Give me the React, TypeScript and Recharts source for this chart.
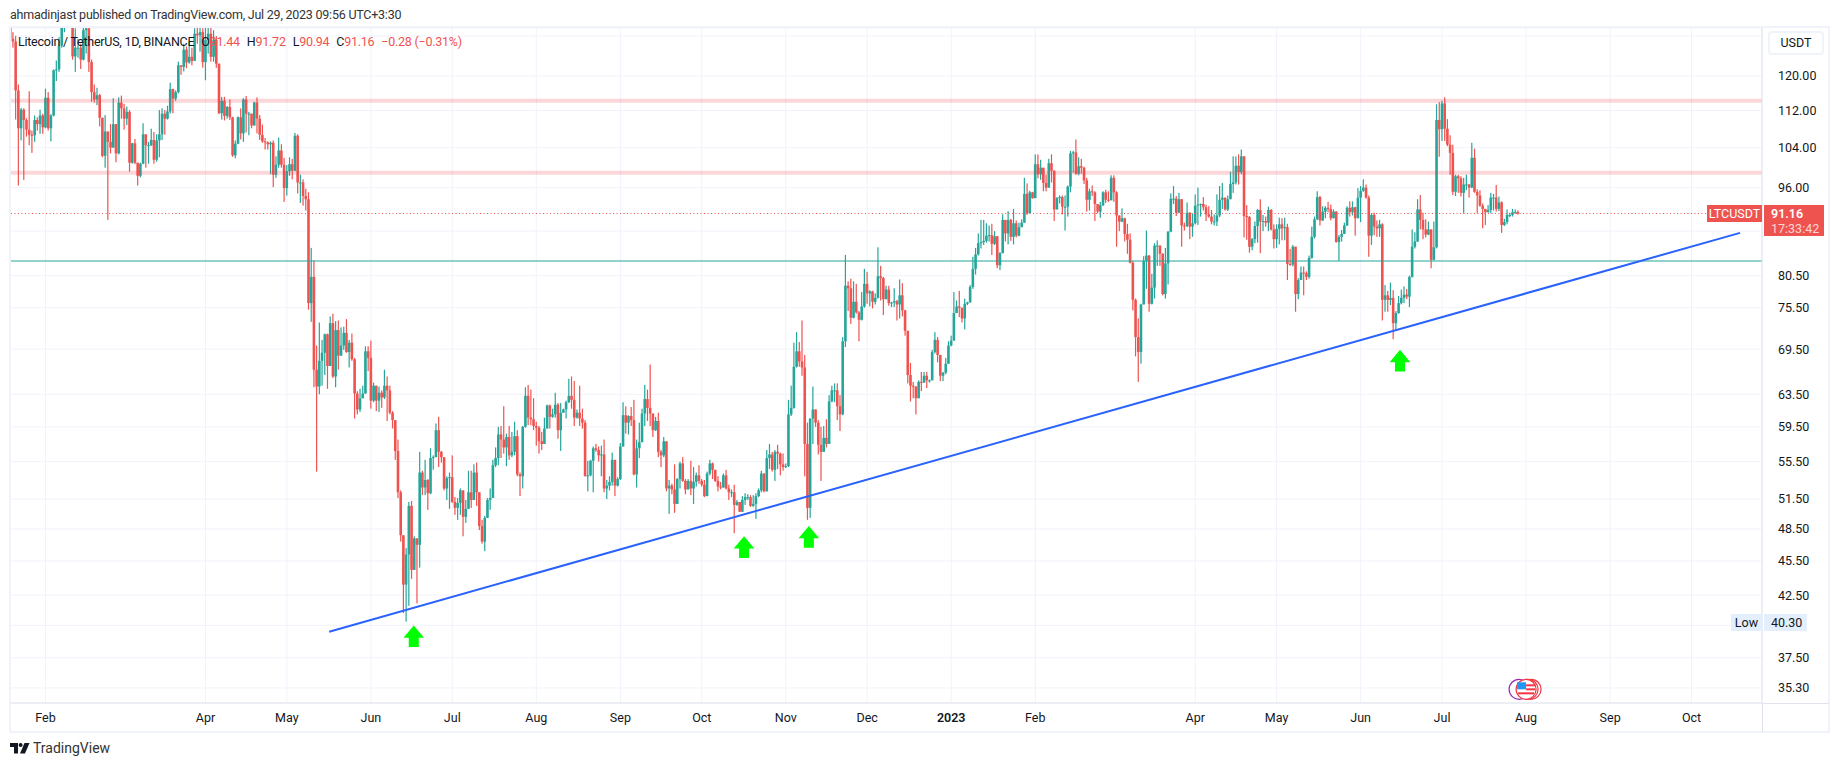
import { Bar, CartesianGrid, ComposedChart, ReferenceDot, ReferenceLine, XAxis, YAxis } from 'recharts';

// LTCUSDT daily candles. Day 0 is 1 Feb 2022, the first candle is day -13, the last is 29 Jul 2023.
const firstDay = -13;
const firstOpen = 136;

const closes = [
  129.3, 128.6, 116.6, 108.1, 112.2, 109.9, 107.8, 106.7, 106.6, 109.9,
  109, 110.9, 108.3, 114.9, 108.1, 110.9, 121.4, 121.6, 127.5, 132.4,
  136, 138, 137, 124.8, 127, 127, 124, 131.5, 132, 123.4,
  116.2, 114.5, 115.5, 110.4, 102.3, 107.4, 105.2, 104, 109, 102.8,
  113.8, 112.5, 110.2, 111.7, 100.9, 104.9, 100.9, 98.3, 100.7, 106.8,
  104.5, 104.5, 105.6, 101.5, 105.5, 106.8, 111.3, 110.2, 111.8, 116.9,
  114.7, 116.2, 122.6, 122.2, 126.5, 123.3, 124.7, 123.7, 130.6, 130.2,
  131, 123.4, 129, 130.6, 124.7, 129, 123, 111.4, 114.2, 110.8,
  112.8, 110.5, 102.4, 104.8, 110.5, 107, 114.5, 111.3, 111.3, 108.7,
  113.8, 110.2, 106.7, 105.3, 105.1, 104.7, 105, 98.5, 100.5, 103.4,
  100.5, 95.9, 99.2, 100.6, 99.3, 106.5, 97, 97, 94.4, 93.8,
  76.2, 80.3, 66.7, 64.5, 67.9, 69, 71.6, 67.2, 73.2, 65.8,
  72.2, 68.6, 70, 71.8, 69.1, 70.4, 68.1, 63.6, 61.6, 63,
  63.6, 69.2, 68.3, 62.7, 64.6, 62.7, 63.7, 63.1, 64.6, 64,
  61.2, 60.3, 56.7, 52.2, 47.9, 43.4, 46.1, 50.8, 44.7, 47.6,
  47, 54.3, 52.7, 53.5, 52.1, 55.9, 56, 59.1, 56.6, 56,
  52.6, 53.7, 53.8, 51.2, 50.6, 51.1, 52.4, 49.7, 50.5, 52.2,
  51.4, 54.3, 52.2, 48.8, 47.3, 49.6, 51.4, 51.6, 55.1, 55.9,
  58.6, 58, 57.1, 58.3, 56.2, 56.6, 58.4, 54.1, 53.9, 59.5,
  63.3, 60.6, 60.4, 59.6, 59.4, 57.8, 57.5, 59.3, 62.1, 60.7,
  61, 62.2, 59.1, 61.2, 61.6, 62.5, 63.3, 62.8, 60.6, 61.2,
  60.5, 60, 53.9, 54, 55.6, 57, 56.8, 56.2, 56.3, 52.6,
  52.9, 53.3, 55.7, 52.9, 53.6, 57.2, 60.9, 60, 60.8, 60.3,
  54.1, 57, 57.7, 61.1, 62.9, 61.8, 61.1, 59.1, 60.2, 56.6,
  56.2, 57.8, 52.6, 52.9, 52.5, 51, 53.6, 55.3, 53.4, 52.5,
  53.4, 52.6, 53.3, 54, 53.4, 53, 51.8, 54.2, 55.3, 54.6,
  53.4, 52.8, 52.7, 54, 52.6, 52.2, 52.2, 50.9, 51.2, 50.2,
  51.4, 51.7, 51.7, 50.8, 51, 51.8, 52.4, 54.2, 52.3, 55.9,
  56.3, 54.6, 56.6, 56.4, 55.2, 54.9, 55, 61, 61.8, 67.1,
  69.2, 67.8, 67, 57.5, 50.6, 60.5, 61.6, 60, 57.4, 56.6,
  58.2, 57.5, 62.6, 64, 64, 62, 61, 70.6, 78.9, 78.5,
  74, 76.4, 74.8, 73.7, 75.7, 79.2, 77.7, 78, 76.4, 77,
  80.4, 80.1, 76.8, 78.3, 76.2, 76.3, 76.5, 76, 77.4, 75.1,
  72.1, 66, 64.6, 64.5, 63, 65.1, 65, 65.9, 65.3, 65.3,
  69.1, 70.8, 68.7, 65.9, 66.3, 67.5, 70, 70.7, 74.7, 75.7,
  75.5, 73.9, 76.1, 76.3, 78.7, 81.6, 84, 85.9, 86.1, 86.3,
  87.2, 87.3, 85.8, 87.1, 82.2, 84.2, 90, 87.6, 90, 87,
  89.4, 87.2, 88.7, 89.5, 94.8, 91.2, 95.1, 94, 100.6, 98.6,
  99.9, 96.9, 96, 100.8, 99.3, 91.9, 94, 94.2, 92.4, 92.4,
  96.2, 102.8, 103, 98.7, 100.2, 99.9, 97.4, 93.7, 95.3, 95.1,
  92.9, 91.5, 92.7, 95.1, 93.7, 93.6, 97.9, 95.1, 90.8, 89.7,
  90.3, 87.5, 86.5, 82.6, 76.7, 71.2, 69.1, 76, 82.9, 83.8,
  76.1, 78.6, 85.5, 85.5, 84.1, 77.6, 82.5, 87.9, 93.9, 93.9,
  91.3, 93.8, 89, 88.9, 91.3, 88.8, 89.4, 92.6, 92.8, 92.9,
  92.3, 91, 90.6, 89.7, 89.7, 90.8, 93.7, 94.1, 91.9, 93.8,
  96.7, 97, 100.3, 99, 102.2, 90.7, 90.5, 85.3, 86.6, 88.9,
  91.8, 89.7, 89.8, 89.5, 91.8, 88.3, 86.6, 88.4, 89.2, 88.5,
  88.7, 82.4, 82.3, 85.3, 77.6, 79.8, 81, 80.9, 80.3, 83.4,
  87, 90.1, 94.2, 89.9, 91.5, 92.2, 92, 90.3, 91.5, 86.1,
  87, 87.5, 89, 92.2, 91.4, 92.3, 90.3, 94.1, 95.4, 96,
  94.1, 87.2, 90.9, 88.8, 88.5, 89.2, 76.7, 77.4, 76.7, 77,
  73.2, 74.7, 76.2, 77, 77.5, 77.2, 80.3, 85.3, 86.2, 91.9,
  90, 88.3, 87.4, 88.3, 83.1, 85.2, 109.9, 107.9, 113.6, 108,
  104.6, 102.9, 95.2, 98.2, 97.8, 95, 96.6, 96.6, 96, 101.9,
  95.2, 94.5, 92.6, 92, 91.4, 91.8, 94.1, 94.1, 92, 93.2,
  89.1, 89.6, 90.9, 90.9, 91.4, 91.44, 91.16,
];

const highs = [
  137, 131, 130, 118, 112.6, 112.5, 110.3, 116.4, 107.6, 110.9,
  110.5, 112.2, 111.3, 117, 116.2, 111.2, 121.6, 123.8, 129.7, 134,
  140, 142, 141, 138, 132, 129.3, 128, 135, 136, 133,
  124, 118, 117.2, 115.8, 110.2, 111, 107.4, 109, 114.8, 109,
  115, 115.4, 113.5, 112.9, 112.1, 105, 105.8, 100.9, 100.9, 109.2,
  106.8, 105.2, 108, 107.3, 106.8, 112.1, 112.5, 112.1, 113.1, 118.4,
  117, 116.6, 123.5, 122.6, 128, 127.3, 128.5, 127, 132, 133,
  136, 132, 133, 135, 134, 131.5, 130, 122.5, 115.1, 115.1,
  113, 114.5, 110.6, 105.5, 110.7, 112.5, 114.8, 115.3, 111.7, 111.3,
  114, 115, 111, 108.9, 106, 105.3, 105.3, 105.5, 102.2, 106.1,
  104.7, 101.9, 100.4, 102, 101.7, 107.1, 106.8, 98.5, 97.6, 95.8,
  95.1, 85.1, 83, 70, 73.3, 70.8, 71.7, 71.7, 74.2, 74.6,
  73.5, 73.6, 72.6, 72.7, 73.8, 70.8, 71.7, 68.3, 63.9, 64.2,
  64.6, 69.9, 69.9, 70.7, 65, 64.5, 64.5, 64, 66.7, 65.8,
  64.6, 61.4, 60.3, 58, 52.4, 47.9, 46.7, 51.2, 51.3, 47.8,
  47.6, 56.6, 54.5, 55.7, 53.6, 57, 56.2, 59.9, 60.7, 56.7,
  56, 53.9, 54.3, 56.2, 51.7, 51.6, 52.6, 52.4, 51.4, 54.5,
  54.5, 55.2, 55.4, 52.2, 49.4, 49.8, 51.6, 52.6, 55.7, 57.1,
  59.5, 59.6, 62, 58.7, 59.6, 58.9, 60.1, 59.1, 54.3, 59.6,
  64.4, 64.7, 64.1, 63, 60.1, 59.6, 58.9, 60.6, 62.2, 62.2,
  61.7, 63.7, 62.4, 62.4, 61.7, 62.7, 65.5, 65.8, 65.2, 61.6,
  64.6, 61.7, 60.3, 55.6, 55.7, 57.2, 57.5, 57.2, 57.3, 58,
  53.5, 53.9, 56.5, 55.5, 53.8, 57.6, 62.5, 62, 60.9, 61.9,
  62.8, 58, 60, 61.7, 64.7, 64.1, 67.4, 61.1, 60.7, 61.2,
  56.8, 58.3, 57.8, 53.5, 53.1, 55.2, 53.7, 55.5, 56, 53.6,
  53.6, 55.6, 54.9, 54.3, 55.1, 53.6, 53.5, 54.4, 55.7, 55.4,
  54.6, 53.9, 53.3, 54.2, 54.6, 53, 52.5, 53, 51.4, 51.2,
  51.8, 52.1, 52, 51.9, 51.9, 52.1, 52.6, 54.5, 54.2, 56.8,
  57.5, 56.6, 56.8, 57.4, 56.5, 56.4, 55.3, 62.8, 64.6, 70.4,
  71.9, 70.5, 73.6, 68.7, 60, 60.5, 64.5, 61.6, 60.3, 59.5,
  59.6, 60.4, 63.4, 64.6, 64.9, 64.9, 63.4, 71.2, 83.9, 79.6,
  80, 79.6, 79.2, 75, 77.9, 81.6, 81.1, 78.2, 78.1, 77.7,
  85.2, 82.1, 80.3, 78.9, 78.9, 76.4, 78.5, 76.7, 79.9, 79.3,
  75.2, 72.1, 67.6, 65.1, 64.5, 65.3, 66.4, 66.4, 66.4, 65.4,
  69.4, 71.9, 71.2, 68.7, 66.4, 68.3, 70.6, 71.4, 77.9, 76.6,
  78.1, 75.5, 76.9, 76.4, 79, 83.6, 85.1, 87.6, 90, 90,
  89.4, 89, 89.3, 88, 87.1, 84.4, 91, 90, 91.6, 90.2,
  92, 89.9, 89.5, 90.1, 97.9, 96.8, 95.4, 95.2, 102.6, 102.6,
  101.5, 99.9, 98.5, 101.7, 102.6, 99.4, 94.2, 94.5, 94.5, 94.5,
  96.4, 103.3, 103.3, 105.7, 102, 101.7, 100.1, 97.9, 95.8, 96.4,
  95.3, 92.9, 93.3, 95.3, 95.6, 95.3, 98.4, 98.4, 95.3, 90.8,
  92.1, 90.4, 89.3, 87.6, 82.9, 76.9, 73.9, 76.1, 83.7, 88.1,
  83.9, 80.8, 85.9, 86.4, 85.5, 84.2, 85.1, 88, 94.9, 96.3,
  94.4, 95, 93.7, 89.5, 93.2, 91.4, 91.2, 94.7, 96, 93,
  94.2, 92.8, 92.5, 91.8, 91, 94.7, 96.3, 96.9, 94.1, 94.5,
  99.1, 102.2, 102.2, 102.6, 103.6, 102.2, 92.7, 90.7, 86.8, 89.7,
  92, 93.8, 90.9, 90.6, 92.4, 92, 89.2, 89.2, 90.4, 90.3,
  90.4, 89.3, 84.9, 85.6, 85.3, 80.1, 82, 82, 81.2, 83.8,
  88.8, 90.6, 95.3, 94.4, 92.5, 92.5, 93.3, 92.8, 91.9, 91.6,
  87.3, 88.2, 89.5, 92.5, 93.4, 93.4, 92.4, 95.9, 96.3, 97.6,
  96.6, 94.5, 91.2, 91.3, 89.9, 90, 89.4, 79, 78.1, 79.4,
  78.2, 75, 77.3, 78.3, 78.8, 78.4, 80.5, 88.3, 87.8, 93.8,
  94.6, 91.3, 90.1, 89.7, 88.3, 89.7, 113.4, 113.9, 114.2, 115,
  110.1, 106.6, 104.6, 98.5, 98.5, 98.2, 97.9, 98.5, 96.7, 105,
  103.8, 95.7, 95.5, 93, 92, 92.7, 95, 94.8, 96.5, 94.3,
  93.4, 90.2, 91.9, 91.3, 92, 91.9, 91.72,
];

const lows = [
  128.5, 127, 110, 96.4, 105.5, 97.5, 106.3, 104.5, 102.9, 105.2,
  107.6, 106.9, 106.9, 108.1, 107.6, 105.3, 110.7, 118.8, 121, 127,
  131, 134, 133, 124, 121, 124.5, 121.7, 123.8, 125.5, 121,
  114, 113.8, 113.2, 108.5, 102, 99.9, 90, 102.8, 104.3, 101,
  102.6, 110.2, 107.8, 108.8, 99.1, 100.7, 100.6, 96.4, 98, 100.6,
  99.9, 100.7, 104.3, 100.7, 101.1, 102, 105.6, 106.7, 110, 111.3,
  111.4, 114.2, 115.9, 120.3, 121.1, 121.9, 123, 122.6, 127.3, 128,
  126, 122, 119, 125.5, 123.5, 123.5, 122, 111.2, 110, 109.8,
  110.2, 109.9, 102.1, 101.8, 104.7, 105.7, 105.2, 107.2, 106.6, 108.1,
  111.1, 107, 105.6, 105, 103.6, 103.6, 98.6, 96.1, 97.9, 99.9,
  99.9, 93.3, 94.5, 98.3, 97.6, 99.2, 94.9, 93.1, 92.6, 91.7,
  75.2, 73.4, 64.4, 54.4, 63.5, 64.6, 66, 64.2, 67.5, 65.6,
  64.4, 66.7, 68.6, 69.4, 69, 67, 67.9, 60.5, 61, 61.3,
  63, 63.6, 66.5, 61.7, 62.5, 61.4, 61.3, 61.8, 62.9, 60.2,
  61, 59.3, 55.7, 51.6, 47.3, 41, 40.3, 41.6, 43.9, 44.7,
  41.8, 44.9, 51.9, 51.9, 50.4, 52, 54.6, 56, 54.9, 55.4,
  52.4, 51.4, 50.5, 51.1, 49.9, 49.4, 49.9, 47.8, 49.1, 50.6,
  50.6, 51.4, 50.8, 48.4, 47.1, 46.4, 49.6, 50.4, 51.6, 54.9,
  55.1, 55.9, 56.4, 55, 55.7, 56, 56.2, 53.9, 51.8, 52.6,
  59.4, 59.7, 59.7, 59.1, 57.3, 56.4, 56.8, 57.5, 59.3, 59.3,
  60.6, 60.6, 58.1, 56.7, 61.2, 60.5, 62.4, 61.7, 59.6, 60.5,
  59.6, 59.3, 53.9, 52.3, 53.9, 52.2, 56.6, 55.5, 53.9, 52.2,
  51.5, 52.4, 52.9, 51.8, 52.8, 53.5, 57.2, 58.7, 58.6, 59.6,
  54, 52.7, 55.9, 57.8, 59.6, 60.2, 59.6, 58.3, 59, 56,
  54.9, 56, 52.3, 50, 52, 50.1, 51, 52.6, 53.3, 52,
  52.6, 51.9, 51, 52.8, 53.1, 52.8, 51.7, 51.8, 54, 53.6,
  53.3, 52.3, 52.5, 52.8, 52.5, 51.4, 51.7, 48.1, 50.8, 50.2,
  50.2, 50.9, 51.4, 50.7, 50.7, 49.5, 51.7, 52.2, 52.2, 52.3,
  54.7, 54.4, 53.4, 54.7, 54, 54.5, 54.8, 54.9, 60.8, 61.7,
  67, 67.1, 65.9, 53.9, 49.4, 49.6, 57.5, 59.5, 56.3, 53.4,
  56.6, 57.1, 57.5, 62.5, 62.5, 60.3, 59, 60.9, 69.8, 75,
  73.1, 73.9, 74.6, 70.6, 73.6, 75.5, 76.1, 75.7, 75.4, 76,
  76.9, 76.6, 74.4, 76.8, 75.8, 75.6, 75.6, 73.6, 73.9, 74.2,
  71.4, 64.9, 62.6, 63, 61, 63, 63.9, 65, 64.3, 65,
  65.3, 68.9, 67.7, 65.2, 65.2, 66.1, 67.7, 69.9, 70.7, 74.7,
  74.1, 73.3, 72.3, 75.9, 76.3, 78.4, 80.7, 83.8, 85, 85.6,
  86, 86.2, 83.9, 85.6, 81.7, 81.4, 84.2, 86.2, 85.7, 86.3,
  85.7, 86.9, 87.1, 88.7, 89.5, 90.9, 91.2, 93.9, 94, 97.8,
  97.5, 95.3, 95.3, 96, 97, 89.8, 91.9, 93, 91, 88.1,
  90.6, 95.1, 98.9, 98.5, 98.4, 98.7, 96.7, 91.5, 91.7, 94.4,
  89.8, 91.2, 90.4, 92.5, 93.1, 93.3, 93.7, 93.3, 85.3, 88,
  89.6, 86.2, 84.1, 82.5, 75.1, 68.5, 65.1, 67.5, 76, 78.4,
  74.9, 76, 76.9, 82.1, 82.1, 77.4, 76.9, 79.1, 87.8, 92.9,
  90.7, 91.2, 85.3, 88.1, 88.7, 86.6, 87, 89.2, 89.1, 90.6,
  91.7, 89.8, 90.4, 89.2, 89, 88.9, 90.5, 92, 91.7, 91.6,
  93.8, 95, 96.6, 96.6, 98.6, 86.9, 86.5, 84.3, 84.7, 85.9,
  86, 84.2, 88, 88.8, 88, 88.1, 85, 85.1, 85.7, 86.4,
  86.4, 79.8, 82.1, 82, 74.9, 76.8, 79.8, 77.4, 79.8, 80,
  83.3, 86.7, 90, 89, 89.8, 90.3, 91.4, 89.9, 90.3, 86,
  82.9, 86.2, 87.5, 88.9, 90.6, 90.8, 87.2, 90.8, 89.6, 95.2,
  93.9, 83.6, 85.6, 87.3, 87, 87, 73.6, 74.9, 74.9, 75.9,
  70.9, 72.2, 74.6, 76, 76.2, 76.8, 75.6, 80.2, 85, 86.1,
  88.3, 86.6, 86.9, 87.3, 81.7, 83, 85, 102.1, 105.4, 105.4,
  104.3, 98.5, 94.6, 94.4, 95, 94.3, 91.2, 95.5, 94.1, 95.9,
  95, 91.2, 92.4, 88.5, 89.1, 91.3, 91.2, 91.7, 91.5, 91.6,
  87.7, 88.9, 89.2, 90.5, 90.6, 91.1, 90.94,
];

const monthDays = [0, 59, 89, 120, 150, 181, 212, 242, 273, 303, 334, 365, 424, 454, 485, 515, 546, 577, 607];
const monthLabels = ['Feb', 'Apr', 'May', 'Jun', 'Jul', 'Aug', 'Sep', 'Oct', 'Nov', 'Dec', '2023', 'Feb', 'Apr', 'May', 'Jun', 'Jul', 'Aug', 'Sep', 'Oct'];
const priceTicks = [130, 120, 112, 104, 96, 88, 80.5, 75.5, 69.5, 63.5, 59.5, 55.5, 51.5, 48.5, 45.5, 42.5, 40, 37.5, 35.3];
// grid levels whose labels sit behind a tag in the reference
const unlabelledTicks = [130, 88, 40];

const resistanceLevels = [114.2, 98.9];
const supportLevel = 82.9;
const lastClose = 91.16;
const trendStart = { x: 104.6, y: 39.5 };
const trendEnd = { x: 624.9, y: 87.7 };
const arrowDays = [135.8, 257.6, 281.5, 499.5];
const arrowPrices = [40, 47.8, 48.8, 69.4];
const eventDay = 546;
const eventPrice = 35.2;

const UP = '#26a69a';
const DOWN = '#ef5350';
const INK = '#131722';
const FRAME = '#f0f3fa';
const FONT = 'Roboto, sans-serif';

const table = closes.map((close, i) => {
  const open = i === 0 ? firstOpen : closes[i - 1];
  const high = Math.max(highs[i], open, close);
  const low = Math.min(lows[i], open, close);
  return { day: firstDay + i, open, close, high, low, range: [low, high] };
});

function Candle(props: any) {
  const { x, y, width, height, payload } = props;
  const { open, close, high, low } = payload;
  const span = Math.log(high / low) || 1;
  const at = (v: number) => y + (height * Math.log(high / v)) / span;
  const color = close >= open ? UP : DOWN;
  const top = at(Math.max(open, close));
  const bottom = at(Math.min(open, close));
  const mid = x + width / 2;
  return (
    <g>
      <rect x={mid - 0.6} y={y} width={1.2} height={height} fill={color} />
      <rect x={x} y={top} width={width} height={Math.max(bottom - top, 1)} fill={color} />
    </g>
  );
}

function GreenArrow(props: any) {
  const { cx, cy } = props;
  const d = `M${cx} ${cy} L${cx + 10.3} ${cy + 12.3} H${cx + 5} V${cy + 21.7} H${cx - 5} V${cy + 12.3} H${cx - 10.3} Z`;
  return <path d={d} fill="#00ff00" />;
}

function EventBadge(props: any) {
  const { cx, cy } = props;
  return (
    <g fill="none">
      <circle cx={cx - 7} cy={cy} r={10} stroke="#9c27b0" strokeWidth={1.2} fill="#fff" />
      <circle cx={cx + 5} cy={cy} r={10} stroke="#f23645" strokeWidth={1.2} fill="#fff" />
      <circle cx={cx + 2} cy={cy} r={10} stroke="#f23645" strokeWidth={1.2} fill="#fff" />
      <circle cx={cx} cy={cy} r={10} stroke="#f23645" strokeWidth={1.2} fill="#fff" />
      <rect x={cx - 9} y={cy - 7} width={9} height={7} fill="#2196f3" />
      <rect x={cx} y={cy - 5} width={9} height={2} fill="#f23645" />
      <rect x={cx} y={cy - 1} width={9} height={2} fill="#f23645" />
      <rect x={cx - 8} y={cy + 3} width={16} height={2} fill="#f23645" />
    </g>
  );
}

function MonthTick(props: any) {
  const { x, y, payload } = props;
  const label = monthLabels[monthDays.indexOf(payload.value)];
  const isYear = label === '2023';
  return (
    <text x={x} y={y} dy={9} textAnchor="middle" fontFamily={FONT} fontSize={12.5} fontWeight={isYear ? 600 : 400} fill={INK}>
      {label}
    </text>
  );
}

const box = (left: number, top: number, width: number, height: number, extra: any = {}) => ({
  position: 'absolute' as const,
  left,
  top,
  width,
  height,
  boxSizing: 'border-box' as const,
  ...extra,
});

export default function App() {
  return (
    <div style={box(0, 0, 1835, 766, { background: '#fff', overflow: 'hidden', fontFamily: FONT, color: INK })}>
      <div style={{ position: 'absolute', left: 10, top: 7, fontSize: 12.5, letterSpacing: -0.23, whiteSpace: 'nowrap', color: '#333' }}>
        ahmadinjast published on TradingView.com, Jul 29, 2023 09:56 UTC+3:30
      </div>

      <ComposedChart
        width={1835}
        height={766}
        data={table}
        margin={{ top: 28, right: 5, bottom: 33, left: 10 }}
        style={{ position: 'absolute', left: 0, top: 0 }}
      >
        <CartesianGrid stroke={FRAME} strokeWidth={1} />
        <XAxis
          dataKey="day"
          type="number"
          domain={[-13.1, 633]}
          allowDataOverflow
          ticks={monthDays}
          interval={0}
          height={30}
          tick={<MonthTick />}
          tickLine={false}
          axisLine={{ stroke: '#e0e3eb' }}
          tickMargin={4}
        />
        <YAxis
          orientation="right"
          scale="log"
          domain={[34.25, 132.1]}
          allowDataOverflow
          ticks={priceTicks}
          interval={0}
          width={68}
          tickFormatter={(v: number) => (unlabelledTicks.includes(v) ? '' : v.toFixed(2))}
          tick={{ fontFamily: FONT, fontSize: 12.5, fill: INK }}
          tickLine={false}
          axisLine={{ stroke: '#e0e3eb' }}
          tickMargin={10}
        />
        <Bar dataKey="range" barSize={2.6} shape={<Candle />} isAnimationActive={false} />
        {resistanceLevels.map((level) => (
          <ReferenceLine key={level} y={level} stroke="rgba(242,54,69,0.2)" strokeWidth={4} />
        ))}
        <ReferenceLine y={supportLevel} stroke="rgba(38,166,154,0.5)" strokeWidth={2} />
        <ReferenceLine y={lastClose} stroke={DOWN} strokeWidth={1} strokeDasharray="1 2.5" />
        <ReferenceLine segment={[trendStart, trendEnd]} stroke="#2962ff" strokeWidth={2} />
        {arrowDays.map((day, i) => (
          <ReferenceDot key={day} x={day} y={arrowPrices[i]} shape={<GreenArrow />} />
        ))}
        <ReferenceDot x={eventDay} y={eventPrice} shape={<EventBadge />} />
      </ComposedChart>

      {/* pane frame */}
      <div style={box(9, 26, 1821, 707, { border: `2px solid ${FRAME}`, pointerEvents: 'none' })} />
      <div style={box(1762, 703, 1, 29, { background: '#e0e3eb' })} />
      <div style={box(1763, 703, 66, 1, { background: '#e0e3eb' })} />

      {/* legend */}
      <div style={{ position: 'absolute', left: 18, top: 34, fontSize: 12.5, letterSpacing: -0.25, whiteSpace: 'nowrap', color: INK }}>
        Litecoin / TetherUS, 1D, BINANCE
        <span style={{ marginLeft: 7 }}>O</span><span style={{ color: DOWN }}>91.44</span>
        <span style={{ marginLeft: 7 }}>H</span><span style={{ color: DOWN }}>91.72</span>
        <span style={{ marginLeft: 7 }}>L</span><span style={{ color: DOWN }}>90.94</span>
        <span style={{ marginLeft: 7 }}>C</span><span style={{ color: DOWN }}>91.16</span>
        <span style={{ marginLeft: 7, color: DOWN }}>−0.28 (−0.31%)</span>
      </div>

      {/* price scale tags */}
      <div style={box(1768, 31, 56, 24, { background: '#fff', border: `2px solid ${FRAME}`, borderRadius: 4, fontSize: 12.5, textAlign: 'center', lineHeight: '20px' })}>USDT</div>
      <div style={box(1707, 205, 55, 17, { background: DOWN, color: '#fff', fontSize: 12.5, textAlign: 'center', lineHeight: '17px' })}>LTCUSDT</div>
      <div style={box(1764, 205, 60, 31, { background: DOWN, color: '#fff', fontSize: 12.5, paddingLeft: 7, lineHeight: '15px', paddingTop: 1 })}>
        <div style={{ fontWeight: 600 }}>91.16</div>
        <div style={{ opacity: 0.75 }}>17:33:42</div>
      </div>
      <div style={box(1731, 614, 31, 17, { background: '#e3effd', fontSize: 12.5, textAlign: 'center', lineHeight: '17px' })}>Low</div>
      <div style={box(1764, 614, 43, 17, { background: '#e3effd', fontSize: 12.5, paddingLeft: 7, lineHeight: '17px' })}>40.30</div>

      {/* footer */}
      <svg style={box(10, 743, 20, 11)} viewBox="0 0 20 11">
        <path d="M0 0 H8 V10.5 H4 V4 H0 Z" fill="#131722" />
        <circle cx={10.6} cy={2} r={2} fill="#131722" />
        <path d="M14.5 0 H19.5 L15 10.5 H10 Z" fill="#131722" />
      </svg>
      <div style={{ position: 'absolute', left: 33, top: 740, fontSize: 14, color: '#333', whiteSpace: 'nowrap' }}>TradingView</div>
    </div>
  );
}
